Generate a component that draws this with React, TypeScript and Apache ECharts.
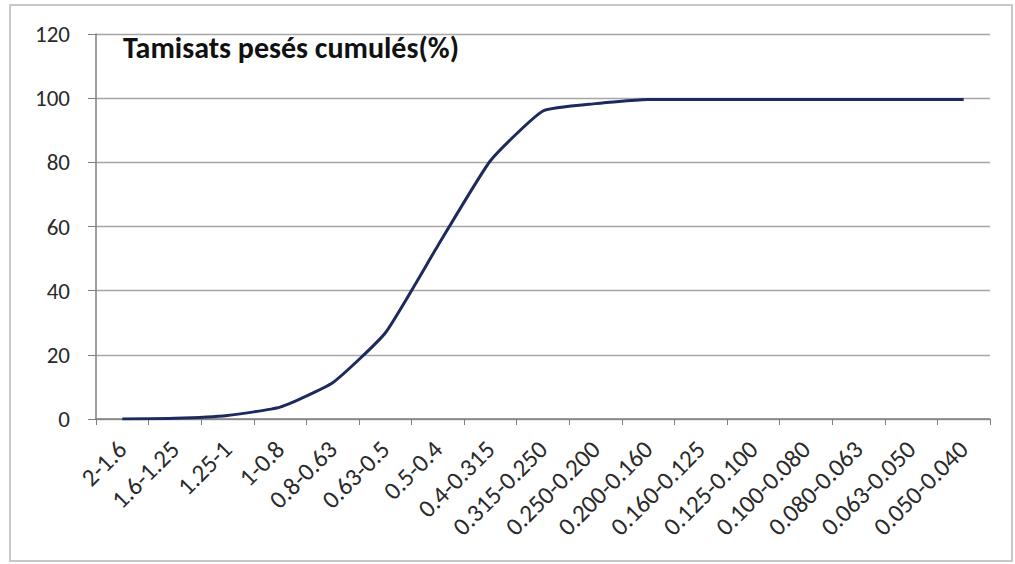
import React, { useEffect, useRef } from "react";
import * as echarts from "echarts";

const categories = [
  "2-1.6", "1.6-1.25", "1.25-1", "1-0.8", "0.8-0.63", "0.63-0.5", "0.5-0.4",
  "0.4-0.315", "0.315-0.250", "0.250-0.200", "0.200-0.160", "0.160-0.125",
  "0.125-0.100", "0.100-0.080", "0.080-0.063", "0.063-0.050", "0.050-0.040",
];
const cumulative = [0, 0.2, 1.1, 3.7, 11.3, 26.8, 54, 80.5, 96, 98.3, 99.6, 99.6, 99.6, 99.6, 99.6, 99.6, 99.6];
const titleText = "Tamisats pesés cumulés(%)";
const yMin = 0;
const yMax = 120;
const yStep = 20;

export default function App() {
  const ref = useRef<HTMLDivElement>(null);
  useEffect(() => {
    if (!ref.current) return;
    const chart = echarts.init(ref.current, undefined, { renderer: "svg" });
    const font = "Carlito, Lato, 'Open Sans', sans-serif";
    chart.setOption({
      animation: false,
      backgroundColor: "#ffffff",
      graphic: [
        {
          type: "rect",
          shape: { x: 10, y: 5, width: 1002, height: 556 },
          style: { fill: "none", stroke: "#c8c8c8", lineWidth: 2 },
          silent: true,
        },
        {
          type: "text",
          x: 123,
          y: 47,
          style: {
            text: titleText,
            fontFamily: font,
            fontSize: 30,
            fontWeight: "bold",
            fill: "#111111",
            textVerticalAlign: "middle",
          },
        },
      ],
      grid: { left: 96, right: 25, top: 34, bottom: 145 },
      xAxis: {
        type: "category",
        data: categories,
        boundaryGap: true,
        axisLine: { show: true, lineStyle: { color: "#7f7f7f", width: 1.5 } },
        axisTick: { show: true, length: 6, lineStyle: { color: "#7f7f7f" } },
        axisLabel: {
          rotate: 45,
          interval: 0,
          margin: 26,
          fontFamily: font,
          fontSize: 25,
          color: "#2a2a2a",
        },
        splitLine: { show: false },
      },
      yAxis: {
        type: "value",
        min: yMin,
        max: yMax,
        interval: yStep,
        axisLine: { show: true, lineStyle: { color: "#7f7f7f", width: 1.5 } },
        axisTick: { show: true, length: 8, lineStyle: { color: "#7f7f7f" } },
        axisLabel: {
          margin: 26,
          fontFamily: font,
          fontSize: 23,
          color: "#2a2a2a",
        },
        splitLine: { show: true, lineStyle: { color: "#a6a6a6", width: 1.3 } },
      },
      series: [
        {
          type: "line",
          data: cumulative,
          smooth: 0.15,
          symbol: "none",
          lineStyle: { color: "#1c2a5c", width: 3 },
        },
      ],
    });
    return () => chart.dispose();
  }, []);
  return (
    <div
      ref={ref}
      style={{ position: "fixed", left: 0, top: 0, width: 1015, height: 564 }}
    />
  );
}
